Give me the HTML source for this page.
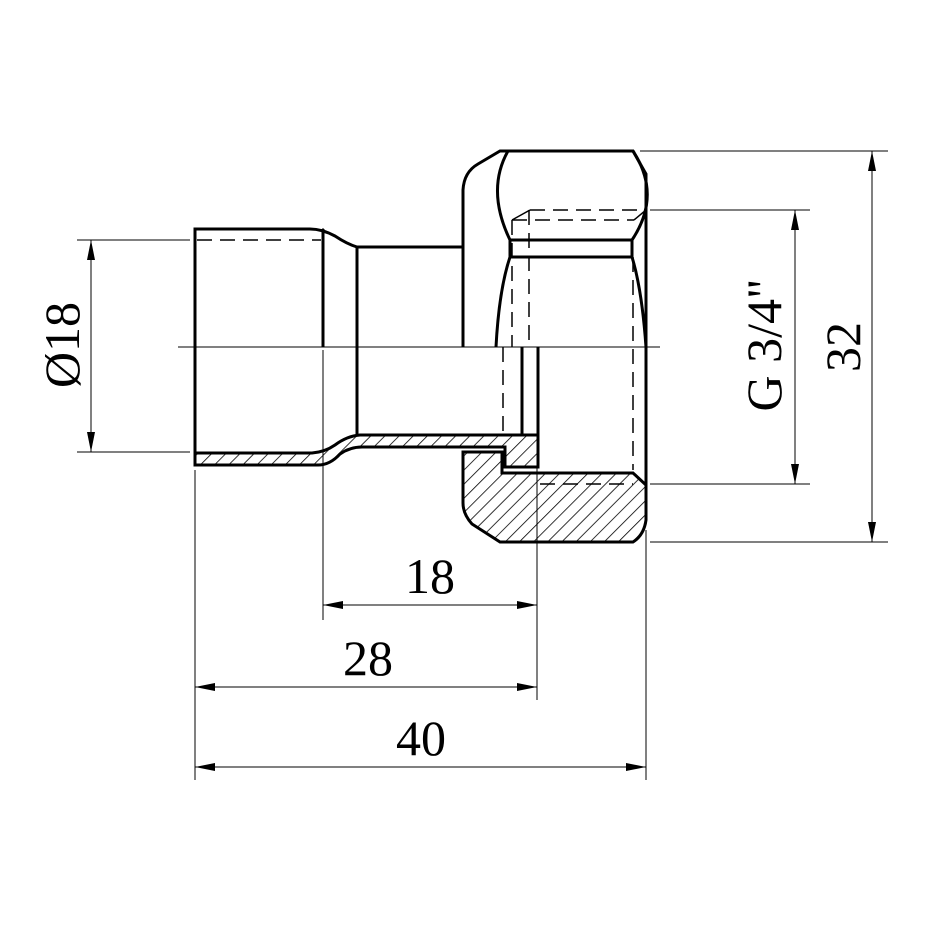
<!DOCTYPE html>
<html><head><style>html,body{margin:0;padding:0;background:#fff}svg{display:block}</style></head><body>
<svg width="930" height="930" viewBox="0 0 930 930" xmlns="http://www.w3.org/2000/svg">
<defs>
<pattern id="h" width="10" height="10" patternUnits="userSpaceOnUse" patternTransform="rotate(45)">
<line x1="0" y1="0" x2="0" y2="10" stroke="#000" stroke-width="1.6"/>
</pattern>
<marker id="a" viewBox="0 0 20 8" refX="20" refY="4" markerWidth="20" markerHeight="8" markerUnits="userSpaceOnUse" orient="auto-start-reverse">
<path d="M0,0 L20,4 L0,8 Z" fill="#000"/>
</marker>
</defs>
<g fill="none" stroke="#000">
<g stroke-width="1">
<line x1="178" y1="347" x2="660" y2="347"/>
<line x1="77" y1="240" x2="190" y2="240"/>
<line x1="77" y1="452" x2="190" y2="452"/>
<line x1="91" y1="240" x2="91" y2="452" marker-start="url(#a)" marker-end="url(#a)"/>
<line x1="650" y1="210" x2="810" y2="210"/>
<line x1="650" y1="484" x2="810" y2="484"/>
<line x1="795" y1="210" x2="795" y2="484" marker-start="url(#a)" marker-end="url(#a)"/>
<line x1="640" y1="151" x2="888" y2="151"/>
<line x1="650" y1="542" x2="888" y2="542"/>
<line x1="872" y1="151" x2="872" y2="542" marker-start="url(#a)" marker-end="url(#a)"/>
<line x1="195" y1="470" x2="195" y2="780"/>
<line x1="323" y1="350" x2="323" y2="620"/>
<line x1="537" y1="470" x2="537" y2="700"/>
<line x1="646" y1="530" x2="646" y2="780"/>
<line x1="323" y1="605" x2="537" y2="605" marker-start="url(#a)" marker-end="url(#a)"/>
<line x1="195" y1="687" x2="537" y2="687" marker-start="url(#a)" marker-end="url(#a)"/>
<line x1="195" y1="767" x2="646" y2="767" marker-start="url(#a)" marker-end="url(#a)"/>
<line x1="323" y1="228" x2="323" y2="347"/>
<line x1="537" y1="347" x2="537" y2="542"/>
</g>
<g stroke-width="1.5" stroke-dasharray="15,8">
<line x1="197" y1="240" x2="321" y2="240"/>
<line x1="530" y1="210" x2="646" y2="210"/>
<line x1="512" y1="220" x2="634" y2="220"/>
<line x1="512" y1="220" x2="512" y2="347"/>
<line x1="529" y1="210" x2="529" y2="347"/>
<line x1="503" y1="347" x2="503" y2="435"/>
<line x1="633" y1="257" x2="633" y2="470"/>
<line x1="540" y1="484" x2="633" y2="484"/>
</g>
<line x1="512" y1="220" x2="530" y2="210" stroke-width="1.5"/>
<line x1="634" y1="220" x2="646" y2="210" stroke-width="1.5"/>
<path d="M195,453 L312,453 Q325,452 335,445 Q347,436 360,435 L538,435 L538,467 L505,467 L505,447 L362,447 Q350,447 340,454 Q330,465 318,465 L195,465 Z" fill="url(#h)" stroke-width="3"/>
<path d="M463,452 L502,452 L502,473 L633,473 L646,485 L646,520 Q644,535 633,542 L500,542 L472,524 Q463,514 463,503 Z" fill="url(#h)" stroke-width="3"/>
<g stroke-width="3">
<path d="M195,347 L195,229 L310,229 Q322,229 335,236 Q347,244 357,247 L463,247"/>
<line x1="195" y1="347" x2="195" y2="453"/>
<line x1="323" y1="229" x2="323" y2="347"/>
<line x1="357" y1="247" x2="357" y2="435"/>
<path d="M463,347 L463,190 Q464,172 478,164 L500,151 L633,151 L646,174 L646,520"/>
<path d="M508,151 Q486,190 510,240"/>
<path d="M633,151 Q662,195 632,240"/>
<line x1="510" y1="240" x2="632" y2="240"/>
<line x1="510" y1="257" x2="632" y2="257"/>
<path d="M510,257 Q499,290 496,347"/>
<path d="M632,257 Q642,290 646,347"/>
<line x1="510" y1="240" x2="510" y2="257"/>
<line x1="632" y1="240" x2="632" y2="257"/>
<line x1="522" y1="347" x2="522" y2="435"/>
<line x1="538" y1="347" x2="538" y2="435"/>
</g>
</g>
<g font-family="'Liberation Serif', serif" font-size="50" fill="#000">
<text x="430" y="593" text-anchor="middle">18</text>
<text x="368" y="675" text-anchor="middle">28</text>
<text x="421" y="755" text-anchor="middle">40</text>
<text transform="translate(79,345) rotate(-90)" text-anchor="middle">Ø18</text>
<text transform="translate(781,345) rotate(-90)" text-anchor="middle">G 3/4"</text>
<text transform="translate(860,347) rotate(-90)" text-anchor="middle">32</text>
</g>
</svg>
</body></html>
